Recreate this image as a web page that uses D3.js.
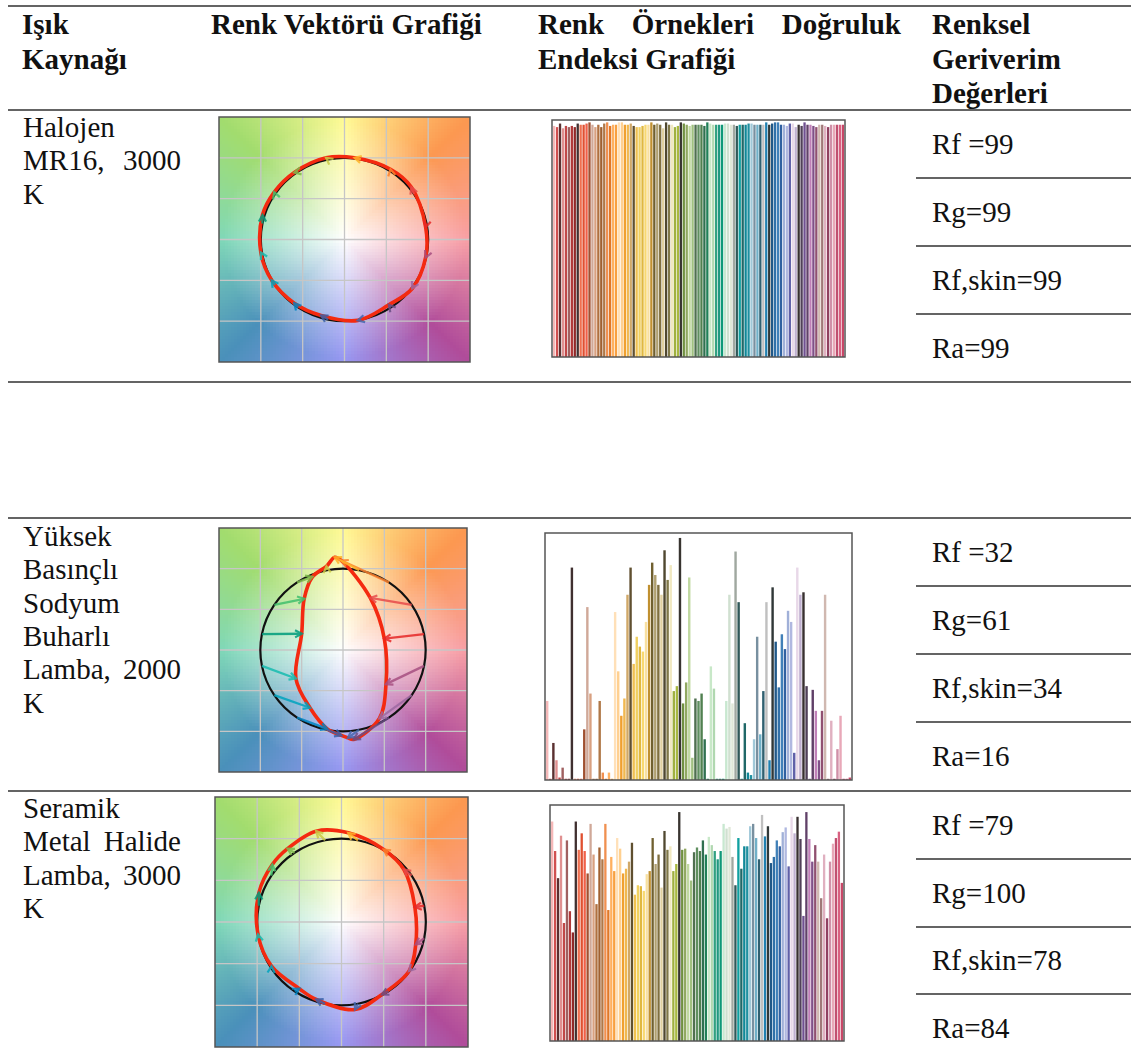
<!DOCTYPE html>
<html>
<head>
<meta charset="utf-8">
<script src="https://cdn.jsdelivr.net/npm/d3@7"></script>
<style>
body { margin: 0; background: #fff; }
svg text { font-family: "Liberation Serif", "Times New Roman", serif; fill: #111; }
</style>
</head>
<body>
<svg id="chart" width="1131" height="1059"></svg>
<script>
// ---------- data ----------
var headerCol1 = ["Işık", "Kaynağı"];
var headerCol2 = ["Renk Vektörü Grafiği"];
var headerCol3 = ["Renk Örnekleri Doğruluk", "Endeksi Grafiği"];
var headerCol4 = ["Renksel", "Geriverim", "Değerleri"];

var sourceNames = [
  ["Halojen", "MR16, 3000", "K"],
  ["Yüksek", "Basınçlı", "Sodyum", "Buharlı", "Lamba, 2000", "K"],
  ["Seramik", "Metal Halide", "Lamba, 3000", "K"]
];

var metricNames = ["Rf =", "Rg=", "Rf,skin=", "Ra="];
var metricHalogen = [99, 99, 99, 99];
var metricHPS = [32, 61, 34, 16];
var metricCMH = [79, 100, 78, 84];

// 16 hue bins (TM-30 colours)
var hueBinColors = ["#e62828", "#e74b4b", "#fb812e", "#ffb529", "#cbca46", "#7eb94c", "#41c06d", "#009c7c",
                    "#16bcb0", "#00a4bf", "#0085c3", "#3b62aa", "#4568ae", "#6a4e85", "#9d69a1", "#a74f81"];

// test source a',b' per hue bin, normalised to reference radius 1
var cvgHalogen = [[0.97, 0.15], [0.80, 0.64], [0.55, 0.86], [0.12, 1.00], [-0.22, 1.00], [-0.60, 0.82], [-0.84, 0.58], [-0.98, 0.30],
                  [-1.00, -0.16], [-0.87, -0.50], [-0.60, -0.78], [-0.28, -0.93], [0.16, -0.99], [0.53, -0.80], [0.81, -0.60], [0.97, -0.22]];
var cvgHPS = [[0.50, 0.14], [0.33, 0.64], [-0.02, 1.10], [-0.10, 1.14], [-0.20, 1.03], [-0.37, 0.90], [-0.47, 0.63], [-0.50, 0.20],
              [-0.57, -0.35], [-0.40, -0.71], [-0.19, -0.97], [-0.02, -1.05], [0.06, -1.08], [0.13, -1.10], [0.44, -0.84], [0.52, -0.42]];
var cvgCMH = [[0.87, 0.18], [0.74, 0.63], [0.50, 0.87], [0.08, 1.07], [-0.30, 1.09], [-0.64, 0.88], [-0.82, 0.69], [-0.98, 0.35],
              [-0.99, -0.15], [-0.83, -0.53], [-0.50, -0.80], [-0.30, -0.93], [0.16, -1.05], [0.48, -0.87], [0.80, -0.59], [0.88, -0.27]];

// 99 colour evaluation samples
var cesColors = [
  "#f5b8b8", "#d05050", "#5a3030", "#e09090", "#c04848", "#a06060", "#b03838", "#902828", "#403030",
  "#f07050", "#e05030", "#f06048", "#a05030", "#d0a898", "#d8a080", "#b07040", "#a06030", "#b07848", "#f09050",
  "#e07828", "#ffb060", "#f8a040", "#ffe0b8", "#ffd090", "#f0a030", "#f0b850", "#d0a868", "#605030", "#f0c050",
  "#f0d060", "#e0b840", "#f8d870", "#f8e0a0", "#c09030", "#706030", "#b0a070", "#807040", "#e0d0a0", "#504830",
  "#807848", "#f0e8c0", "#a0b040", "#a8b840", "#383430", "#709040", "#90a860", "#c0d8a0", "#a0c080", "#507050",
  "#609060", "#508050", "#307050", "#208058", "#c8e8c8", "#b0d8b0", "#30a080", "#209880", "#109878", "#c8e8d0",
  "#d0e0d0", "#e0e8d8", "#a0a8a0", "#305858", "#10a0a0", "#206868", "#108898", "#2090a0", "#a0c8d8", "#7890a0",
  "#70b0c8", "#306070", "#c0c0c0", "#2080b0", "#303838", "#205888", "#3070a8", "#4080b8", "#3060a0", "#a0b0d8",
  "#b0b8e0", "#6060a8", "#e8d8e8", "#c0b0d0", "#383030", "#504058", "#705090", "#604068", "#c080b8", "#805088",
  "#905070", "#d0b8b0", "#a07878", "#e0b0c0", "#904060", "#d090a8", "#e8a8b8", "#c05070", "#d86080", "#c84868"
];

var rfCesHalogen = [
  97.5, 97, 98.5, 96.5, 97.5, 97, 97.5, 97, 98.5, 98,
  98, 98.5, 99, 98, 97, 98, 97, 98.5, 99, 97.5,
  98, 98, 99, 99, 98, 98, 98.5, 97.5, 97, 97,
  97.5, 98, 98, 99, 98, 98.5, 98, 96.5, 99, 98,
  98, 97, 97.5, 99, 98.5, 98, 97.5, 98, 98, 98,
  98, 97.5, 99, 98.5, 98, 98, 98, 98, 98.5, 98.5,
  98, 98, 97.5, 98, 98, 98, 98.5, 98.5, 98, 98,
  98, 98, 99, 98, 98.5, 99, 99, 98, 98, 97.5,
  98.5, 98.5, 97, 98, 97.5, 99, 98, 98, 97.5, 97,
  98, 98, 97.5, 97, 98, 98, 98, 98, 98
];
var rfCesHPS = [
  32, 0.5, 15, 8, 1, 5, 0.5, 0.5, 86, 0.5,
  0.5, 0.5, 20.5, 70, 35, 0.5, 0.5, 32, 3, 0.5,
  3, 0.5, 68, 44, 26, 33, 75, 86, 47, 58,
  54, 52, 64, 79, 88, 83, 79, 75, 93, 81,
  87, 36, 38, 98, 31, 39.5, 82, 9, 33, 32,
  35, 16.5, 0.5, 46, 37, 0.5, 0.5, 0.5, 32, 75,
  31, 92.5, 72, 0.5, 23, 3, 2, 16.5, 58, 18.5,
  36, 72, 8, 78, 56, 37.5, 59, 53, 68.5, 64,
  11, 86, 75, 76, 38, 0.5, 36.5, 28, 8, 28,
  75, 0.5, 24, 0.5, 12.5, 26, 0.5, 0.5, 1
];
var rfCesCMH = [
  93, 80.5, 69, 87, 50, 85, 55, 46, 93,
  81, 88, 80.5, 71, 92, 79, 58, 82, 77, 92,
  55.5, 78, 72, 86, 81.5, 71, 73, 76, 84, 62,
  66, 65.6, 63.6, 70.7, 72, 86, 75, 79, 65, 89,
  81, 82.5, 72, 75, 97, 81, 81.5, 75, 68, 80,
  82, 80.5, 85, 79, 86.5, 83, 80.5, 77, 80.5, 92,
  90, 90.7, 78, 66, 86, 73, 82.5, 82.5, 91, 92,
  86, 77, 95.8, 86.7, 91, 75.4, 78, 85, 82.5, 88.5,
  90.5, 74, 95, 88, 95, 85.6, 53, 97, 85.6, 76,
  83, 76, 60.5, 79, 52, 76, 83.6, 86, 88.7, 67
];

// ---------- layout ----------
var svg = d3.select("#chart");
var fs = 29;
var lineColor = "#646464";

var rows = [
  {top: 110, textY: 137, cells: [110, 178, 246, 314, 382], cvg: {x: 219, y: 117, w: 251, h: 245}, bars: {x: 552, y: 120, w: 293, h: 237},
   names: sourceNames[0], metrics: metricHalogen, tips: cvgHalogen, rf: rfCesHalogen},
  {top: 518, textY: 546, cells: [518, 586, 654, 722, 791], cvg: {x: 219, y: 528, w: 248, h: 244}, bars: {x: 545, y: 533, w: 307, h: 247},
   names: sourceNames[1], metrics: metricHPS, tips: cvgHPS, rf: rfCesHPS},
  {top: 791, textY: 818, cells: [791, 859, 927, 994, 1062], cvg: {x: 215, y: 797, w: 253, h: 250}, bars: {x: 550, y: 805, w: 294, h: 236},
   names: sourceNames[2], metrics: metricCMH, tips: cvgCMH, rf: rfCesCMH}
];

function hline(y, x0, x1) {
  svg.append("line").attr("x1", x0).attr("x2", x1).attr("y1", y).attr("y2", y)
    .attr("stroke", lineColor).attr("stroke-width", 2);
}

// paragraph: every line except the last one is justified
function paragraph(lines, x0, x1, y0, pitch, weight) {
  lines.forEach(function(line, li) {
    var words = line.split(" ");
    var t = svg.append("text").attr("y", y0 + li * pitch).attr("font-size", fs).attr("font-weight", weight);
    if (li === lines.length - 1 || words.length < 2) {
      t.attr("x", x0).text(line);
      return;
    }
    var spans = words.map(function(w) { return t.append("tspan").text(w); });
    var widths = spans.map(function(s) { return s.node().getComputedTextLength(); });
    var gap = (x1 - x0 - d3.sum(widths)) / (words.length - 1);
    var cx = x0;
    spans.forEach(function(s, i) { s.attr("x", cx); cx += widths[i] + gap; });
  });
}

// ---------- table frame + header ----------
hline(6, 8, 1131);
hline(110, 8, 1131);
paragraph(headerCol1, 22, 200, 34, 34.5, "bold");
paragraph(headerCol2, 211, 500, 34, 34.5, "bold");
paragraph(headerCol3, 538, 901, 34, 34.5, "bold");
paragraph(headerCol4, 932, 1120, 34, 34.5, "bold");

// ---------- colour vector graphic ----------
var angleColor = d3.scaleLinear()
  .domain([0, 45, 90, 135, 180, 225, 270, 315, 360])
  .range(["#f8a0a6", "#fc9850", "#fffa96", "#a2dc6e", "#80d8b8", "#4a90ba", "#9898f2", "#b04c9a", "#f8a0a6"])
  .interpolate(d3.interpolateRgb);

function bgColor(u, v) {
  var a = Math.atan2(v, u) * 180 / Math.PI;
  if (a < 0) a += 360;
  var r = Math.sqrt(u * u + v * v);
  var t = Math.pow(Math.min(1, r / 1.45), 0.95);
  return d3.interpolateRgb("#ffffff", angleColor(a))(t);
}

function drawCVG(box, tips) {
  var g = svg.append("g");
  var x = d3.scaleLinear().domain([-1.5, 1.5]).range([box.x, box.x + box.w]);
  var y = d3.scaleLinear().domain([-1.5, 1.5]).range([box.y + box.h, box.y]);

  var step = 3, cells = [];
  for (var px = 0; px < box.w; px += step) {
    for (var py = 0; py < box.h; py += step) {
      cells.push({px: px, py: py, c: bgColor(x.invert(box.x + px + step / 2), y.invert(box.y + py + step / 2))});
    }
  }
  g.append("g").selectAll("rect").data(cells).join("rect")
    .attr("x", function(d) { return box.x + d.px; })
    .attr("y", function(d) { return box.y + d.py; })
    .attr("width", function(d) { return Math.min(step, box.w - d.px) + 0.3; })
    .attr("height", function(d) { return Math.min(step, box.h - d.py) + 0.3; })
    .attr("fill", function(d) { return d.c; })
    .attr("shape-rendering", "crispEdges");

  var gridVals = [-1, -0.5, 0, 0.5, 1];
  g.append("g").selectAll("line").data(gridVals).join("line")
    .attr("x1", function(d) { return x(d); }).attr("x2", function(d) { return x(d); })
    .attr("y1", box.y).attr("y2", box.y + box.h)
    .attr("stroke", "#c6c6c6").attr("stroke-width", 1.3);
  g.append("g").selectAll("line").data(gridVals).join("line")
    .attr("y1", function(d) { return y(d); }).attr("y2", function(d) { return y(d); })
    .attr("x1", box.x).attr("x2", box.x + box.w)
    .attr("stroke", "#c6c6c6").attr("stroke-width", 1.3);

  var refs = d3.range(16).map(function(i) {
    var a = (i + 0.5) * 22.5 * Math.PI / 180;
    return [Math.cos(a), Math.sin(a)];
  });
  var closed = d3.line().x(function(d) { return x(d[0]); }).y(function(d) { return y(d[1]); })
    .curve(d3.curveCatmullRomClosed.alpha(0.5));

  g.append("path").attr("d", closed(refs)).attr("fill", "none").attr("stroke", "#111").attr("stroke-width", 2.2);
  g.append("path").attr("d", closed(tips)).attr("fill", "none").attr("stroke", "#f42a10").attr("stroke-width", 3.6)
    .attr("stroke-linejoin", "round");

  // arrows reference -> test
  var arrows = g.append("g").selectAll("g").data(tips).join("g").attr("opacity", 0.85);
  arrows.append("line")
    .attr("x1", function(d, i) { return x(refs[i][0]); }).attr("y1", function(d, i) { return y(refs[i][1]); })
    .attr("x2", function(d) { return x(d[0]); }).attr("y2", function(d) { return y(d[1]); })
    .attr("stroke", function(d, i) { return hueBinColors[i]; }).attr("stroke-width", 2.3);
  arrows.append("path")
    .attr("d", function(d, i) {
      var x0 = x(refs[i][0]), y0 = y(refs[i][1]), x1 = x(d[0]), y1 = y(d[1]);
      var dx = x1 - x0, dy = y1 - y0, len = Math.sqrt(dx * dx + dy * dy) || 1;
      dx /= len; dy /= len;
      var L = 7.5, c = Math.cos(0.5), s = Math.sin(0.5);
      var w1 = [x1 - L * (dx * c - dy * s), y1 - L * (dx * s + dy * c)];
      var w2 = [x1 - L * (dx * c + dy * s), y1 - L * (-dx * s + dy * c)];
      return "M" + w1 + "L" + [x1, y1] + "L" + w2;
    })
    .attr("fill", "none")
    .attr("stroke", function(d, i) { return hueBinColors[i]; }).attr("stroke-width", 2.2);

  g.append("rect").attr("x", box.x).attr("y", box.y).attr("width", box.w).attr("height", box.h)
    .attr("fill", "none").attr("stroke", "#555").attr("stroke-width", 1.5);
}

// ---------- Rf,CES bar chart ----------
function drawBars(box, values) {
  var g = svg.append("g");
  var x = d3.scaleBand().domain(d3.range(values.length)).range([box.x + 1, box.x + box.w - 1]).paddingInner(0.22);
  var y = d3.scaleLinear().domain([0, 100]).range([box.y + box.h, box.y]);
  g.selectAll("rect").data(values).join("rect")
    .attr("x", function(d, i) { return x(i); })
    .attr("y", function(d) { return y(d); })
    .attr("width", x.bandwidth())
    .attr("height", function(d) { return y(0) - y(d); })
    .attr("fill", function(d, i) { return cesColors[i]; });
  g.append("rect").attr("x", box.x).attr("y", box.y).attr("width", box.w).attr("height", box.h)
    .attr("fill", "none").attr("stroke", "#555").attr("stroke-width", 1.5);
}

// ---------- rows ----------
rows.forEach(function(r) {
  hline(r.top, 8, 1131);
  paragraph(r.names, 23, 181, r.textY, 33.3, "normal");
  drawCVG(r.cvg, r.tips);
  drawBars(r.bars, r.rf);
  r.metrics.forEach(function(v, i) {
    var c0 = r.cells[i], c1 = r.cells[i + 1];
    svg.append("text").attr("x", 932).attr("y", (c0 + c1) / 2 + 9.5).attr("font-size", fs)
      .text(metricNames[i] + v);
    if (i < 3) hline(c1, 916, 1131);
  });
});
hline(382, 8, 1131);
</script>
</body>
</html>
